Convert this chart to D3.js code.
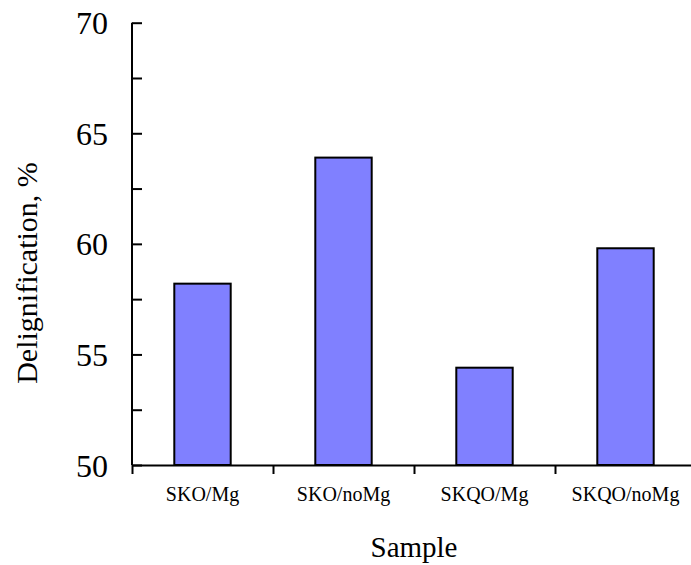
<!DOCTYPE html>
<html>
<head>
<meta charset="utf-8">
<script src="https://cdn.jsdelivr.net/npm/d3@7"></script>
<style>
  html, body { margin: 0; padding: 0; background: #fff; }
  svg { display: block; }
  text { font-family: "Liberation Serif", "Times New Roman", serif; fill: #000; }
</style>
</head>
<body>
<div id="chart"></div>
<script>
const categories = ["SKO/Mg", "SKO/noMg", "SKQO/Mg", "SKQO/noMg"];
const values = [58.2, 63.9, 54.4, 59.8];
const yTickValues = [50, 52.5, 55, 57.5, 60, 62.5, 65, 67.5, 70];
const yLabelValues = [50, 55, 60, 65, 70];
const xTitle = "Sample";
const yTitle = "Delignification, %";

const W = 691, H = 565;
const mLeft = 132, mRight = 696, mTop = 22.7, mBottom = 465;

const svg = d3.select("#chart").append("svg").attr("width", W).attr("height", H);

const x = d3.scaleBand().domain(categories).range([mLeft, mRight]).paddingInner(0.6).paddingOuter(0.3);
const xEdge = d3.scaleLinear().domain([0, categories.length]).range([mLeft, mRight]);
const y = d3.scaleLinear().domain([50, 70]).range([mBottom, mTop]);

// bars
svg.append("g").selectAll("rect").data(values).join("rect")
  .attr("x", (d, i) => x(categories[i]))
  .attr("y", d => y(d))
  .attr("width", x.bandwidth())
  .attr("height", d => y(50) - y(d))
  .attr("fill", "#8080FF")
  .attr("stroke", "#000")
  .attr("stroke-width", 2);

// y axis (ticks pointing inward)
const yAxis = svg.append("g").attr("transform", `translate(${mLeft},0)`)
  .call(d3.axisRight(y).tickValues(yTickValues).tickSize(10).tickFormat(""));
yAxis.select(".domain").attr("stroke-width", 2).attr("d", `M0,${y(70)}H0V${y(50)}`);
yAxis.selectAll(".tick line").attr("stroke-width", 2);

// y tick labels
svg.append("g").selectAll("text").data(yLabelValues).join("text")
  .attr("x", mLeft - 24)
  .attr("y", d => y(d))
  .attr("dy", "0.36em")
  .attr("text-anchor", "end")
  .style("font-size", "32px")
  .text(d => d);

// x axis boundary ticks
const xAxis = svg.append("g").attr("transform", `translate(0,${mBottom})`)
  .call(d3.axisBottom(xEdge).tickValues(d3.range(categories.length + 1)).tickSize(9).tickSizeOuter(0).tickFormat(""));
xAxis.select(".domain").attr("stroke-width", 2);
xAxis.selectAll(".tick line").attr("stroke-width", 2);

// category labels
const xLab = svg.append("g").attr("transform", `translate(0,${mBottom})`)
  .call(d3.axisBottom(x).tickSize(0).tickPadding(22));
xLab.select(".domain").remove();
xLab.selectAll("text").style("font-size", "20px").style("font-family", "'Liberation Serif', serif");

// titles
svg.append("text")
  .attr("x", (mLeft + mRight) / 2)
  .attr("y", 557)
  .attr("text-anchor", "middle")
  .style("font-size", "29px")
  .text(xTitle);

svg.append("text")
  .attr("transform", `translate(37,273) rotate(-90)`)
  .attr("text-anchor", "middle")
  .style("font-size", "30px")
  .text(yTitle);
</script>
</body>
</html>
